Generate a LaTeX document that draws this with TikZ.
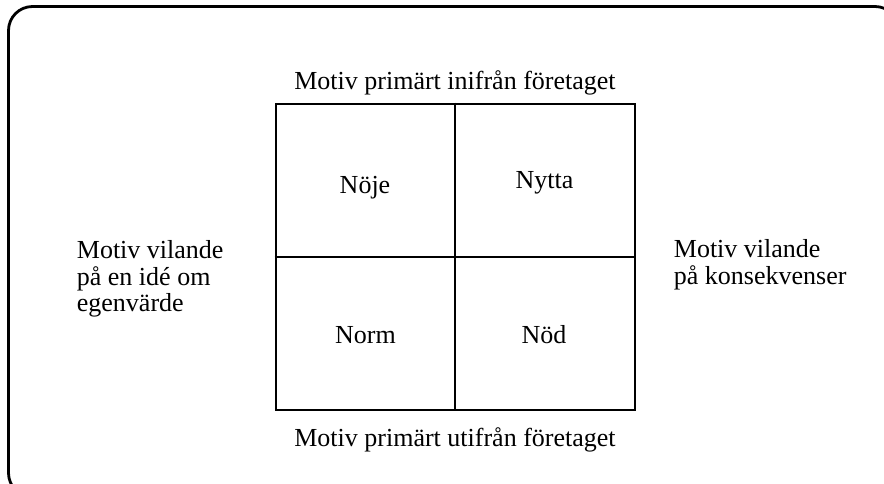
\documentclass[tikz,border=0pt]{standalone}
\usepackage{fontspec}
\setmainfont{Liberation Serif}
\usetikzlibrary{positioning}

\begin{document}
\begin{tikzpicture}[x=0.5pt,y=-0.5pt,
  every node/.style={font=\fontsize{13}{13.3}\selectfont, inner sep=0pt},
  ruta/.style={draw, line width=1pt}]
\useasboundingbox (0,0) rectangle (884,483);
\clip (0,0) rectangle (884,483);
\draw[line width=1.4pt, rounded corners=12pt] (8.5,6.5) rectangle (899,497);
\node[ruta, minimum width=179.75pt, minimum height=153pt](matris) at (455.25,256.5){};
\draw[line width=1pt] (matris.north) -- (matris.south);
\draw[line width=1pt] (matris.west) -- (matris.east);
\node[anchor=base](inifran) at (455,89){Motiv primärt inifrån företaget};
\node[anchor=base](utifran) at (455,446){Motiv primärt utifrån företaget};
\node[anchor=base](noje) at (365,193){Nöje};
\node[anchor=base](nytta) at (544.5,188.5){Nytta};
\node[anchor=base](norm) at (365.5,343){Norm};
\node[anchor=base](nod) at (544,343){Nöd};
\node[anchor=north west, align=left](egenvarde) at (76.5,240){Motiv vilande\\på en idé om\\egenvärde};
\node[anchor=north west, align=left](konsekvens) at (673.5,239){Motiv vilande\\på konsekvenser};
\end{tikzpicture}
\end{document}
